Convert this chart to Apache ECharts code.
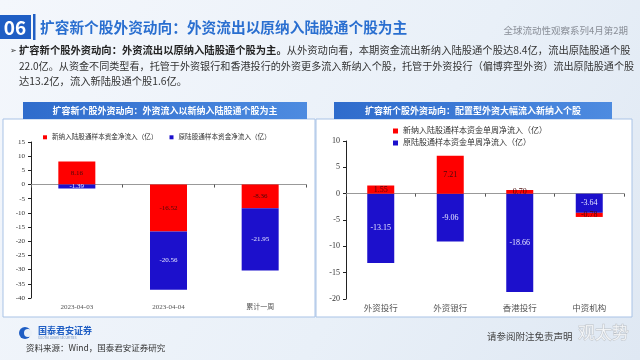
<!DOCTYPE html>
<html><head><meta charset="utf-8">
<script src="https://cdn.jsdelivr.net/npm/echarts@6/dist/echarts.min.js"></script>
<style>html,body{margin:0;padding:0;}#c{width:640px;height:360px;}</style>
</head><body><div id="c"></div>
<script>
const leftCats = ['2023-04-03', '2023-04-04', '累计一周'];
const leftNew = [8.16, -16.52, -8.36];
const leftOld = [-1.39, -20.56, -21.95];
const rightCats = ['外资投行', '外资银行', '香港投行', '中资机构'];
const rightNew = [1.55, 7.21, 0.70, -0.78];
const rightOld = [-13.15, -9.06, -18.66, -3.64];
const leftNames = ['新纳入陆股通样本资金净流入（亿）', '原陆股通样本资金净流入（亿）'];
const rightNames = ['新纳入陆股通样本资金单周净流入（亿）', '原陆股通样本资金单周净流入（亿）'];

const CJK = '"Noto Sans CJK SC", sans-serif';
const SERIF = '"Liberation Serif", "DejaVu Serif", "Noto Sans CJK SC", serif';
const RED = '#ff0000', BLUE = '#1c10cc';

const chart = echarts.init(document.getElementById('c'));

function yAxis(gi, min, max, fs) {
  return { type: 'value', gridIndex: gi, min: min, max: max, interval: 5,
    axisLine: { show: true, lineStyle: { color: '#222', width: 1 } },
    axisTick: { show: true, length: 3, lineStyle: { color: '#222' } },
    splitLine: { show: false },
    axisLabel: { fontSize: fs, color: '#333', fontFamily: SERIF, margin: 6 } };
}
function xLabelAxis(gi, cats, fs, margin) {
  return { type: 'category', gridIndex: gi, data: cats, position: 'bottom',
    axisLine: { show: false, onZero: false }, axisTick: { show: false },
    axisLabel: { fontSize: fs, color: '#555', fontFamily: SERIF, margin: margin } };
}
function xLineAxis(gi, cats) {
  return { type: 'category', gridIndex: gi, data: cats, position: 'bottom',
    axisLine: { show: true, onZero: true, lineStyle: { color: '#999', width: 1.2 } },
    axisTick: { show: true, length: 3, lineStyle: { color: '#555' } },
    axisLabel: { show: false } };
}
function bar(name, data, color, xi, yi, stack, bw, fs, lc) {
  return { type: 'bar', name: name, data: data, xAxisIndex: xi, yAxisIndex: yi, stack: stack,
    barWidth: bw, itemStyle: { color: color },
    label: { show: true, position: 'inside', fontSize: fs, fontFamily: SERIF, color: lc,
      formatter: p => p.value.toFixed(2) } };
}

const option = {
  animation: false,
  backgroundColor: {
    type: 'linear', x: 0, y: 0, x2: 1, y2: 1,
    colorStops: [{ offset: 0, color: '#f4f7fc' }, { offset: 0.6, color: '#e9f0f8' }, { offset: 1, color: '#dfe8f3' }]
  },
  graphic: [
    { type: 'rect', z: -10, shape: { x: 3, y: 119, width: 312, height: 198 },
      style: { fill: '#fff', stroke: '#a9c3e6', lineWidth: 1 } },
    { type: 'rect', z: -10, shape: { x: 316, y: 119, width: 316, height: 198 },
      style: { fill: '#fff', stroke: '#a9c3e6', lineWidth: 1 } },
    { type: 'rect', z: -9, shape: { x: 23, y: 102, width: 284, height: 17 },
      style: { fill: { type: 'linear', x: 0, y: 0, x2: 1, y2: 0, colorStops: [{ offset: 0, color: '#2f6ccc' }, { offset: 1, color: '#4d8be0' }] } } },
    { type: 'rect', z: -9, shape: { x: 334, y: 102, width: 278, height: 17 },
      style: { fill: { type: 'linear', x: 0, y: 0, x2: 1, y2: 0, colorStops: [{ offset: 0, color: '#2f6ccc' }, { offset: 1, color: '#4d8be0' }] } } },
    { type: 'text', z: 5, style: { text: '扩容新个股外资动向：外资流入以新纳入陆股通个股为主', x: 165, y: 110.5,
      align: 'center', verticalAlign: 'middle', fill: '#fff', font: 'bold 9px ' + CJK } },
    { type: 'text', z: 5, style: { text: '扩容新个股外资动向：配置型外资大幅流入新纳入个股', x: 473, y: 110.5,
      align: 'center', verticalAlign: 'middle', fill: '#fff', font: 'bold 9px ' + CJK } },
    // header
    { type: 'rect', z: 5, shape: { x: 0, y: 15, width: 31, height: 24 }, style: { fill: '#1f5ec4' } },
    { type: 'text', z: 6, style: { text: '06', x: 15, y: 27.5, align: 'center', verticalAlign: 'middle',
      fill: '#fff', font: 'bold 19px ' + CJK } },
    { type: 'rect', z: 5, shape: { x: 33, y: 14, width: 2.5, height: 26 }, style: { fill: '#1f5ec4' } },
    { type: 'text', z: 5, style: { text: '扩容新个股外资动向：外资流出以原纳入陆股通个股为主', x: 40, y: 27.5,
      verticalAlign: 'middle', fill: '#2a6fd0', font: 'bold 14.7px ' + CJK } },
    { type: 'text', z: 5, style: { text: '全球流动性观察系列4月第2期', x: 628, y: 30, align: 'right',
      verticalAlign: 'middle', fill: '#8a8f98', font: '9.5px ' + CJK } },
    // bullet text
    { type: 'text', z: 5, style: { text: '➢', x: 10, y: 50, verticalAlign: 'middle', fill: '#333', font: '8px ' + CJK } },
    { type: 'text', z: 5, style: {
      text: '{b|扩容新个股外资动向：外资流出以原纳入陆股通个股为主。}从外资动向看，本期资金流出新纳入陆股通个股达8.4亿，流出原陆股通个股',
      x: 19, y: 50, verticalAlign: 'middle', fill: '#333', font: '10.3px ' + CJK,
      rich: { b: { font: 'bold 10.3px ' + CJK, fill: '#222' } } } },
    { type: 'text', z: 5, style: {
      text: '22.0亿。从资金不同类型看，托管于外资银行和香港投行的外资更多流入新纳入个股，托管于外资投行（偏博弈型外资）流出原陆股通个股',
      x: 19, y: 66, verticalAlign: 'middle', fill: '#333', font: '10.1px ' + CJK } },
    { type: 'text', z: 5, style: { text: '达13.2亿，流入新陆股通个股1.6亿。', x: 19, y: 81.5,
      verticalAlign: 'middle', fill: '#333', font: '10.3px ' + CJK } },
    // footer
    { type: 'circle', z: 5, shape: { cx: 25, cy: 333, r: 6 }, style: { fill: '#1f5ec4' } },
    { type: 'circle', z: 6, shape: { cx: 28, cy: 333, r: 4 }, style: { fill: '#eaf0f8' } },
    { type: 'text', z: 5, style: { text: '国泰君安证券', x: 38, y: 331, verticalAlign: 'middle',
      fill: '#1f5ec4', font: 'bold 9px ' + CJK } },
    { type: 'text', z: 5, style: { text: 'GUOTAI JUNAN SECURITIES', x: 38, y: 338, verticalAlign: 'middle',
      fill: '#6f8fc0', font: '3px ' + CJK } },
    { type: 'text', z: 5, style: { text: '资料来源：Wind，国泰君安证券研究', x: 26, y: 348, verticalAlign: 'middle',
      fill: '#333', font: '8.5px ' + CJK } },
    { type: 'text', z: 5, style: { text: '请参阅附注免责声明', x: 487, y: 336, verticalAlign: 'middle',
      fill: '#444', font: '9.5px ' + CJK } },
    { type: 'text', z: 6, style: { text: '观太势', x: 578, y: 333, verticalAlign: 'middle',
      fill: 'rgba(255,255,255,0.7)', stroke: 'rgba(140,140,140,0.45)', lineWidth: 0.8, font: '17px ' + CJK } }
  ],
  legend: [
    { data: leftNames, left: 38, top: 129, itemWidth: 4, itemHeight: 4, itemGap: 12, icon: 'rect',
      textStyle: { fontSize: 6.6, fontFamily: SERIF, color: '#333' } },
    { data: rightNames, left: 388, top: 122, orient: 'vertical', itemWidth: 5, itemHeight: 5, itemGap: 4, icon: 'rect',
      textStyle: { fontSize: 8, fontFamily: SERIF, color: '#333' } }
  ],
  grid: [
    { left: 31, top: 142, width: 275, height: 156 },
    { left: 346, top: 141, width: 278, height: 158 }
  ],
  xAxis: [
    xLineAxis(0, leftCats), xLabelAxis(0, leftCats, 7, 6),
    xLineAxis(1, rightCats), xLabelAxis(1, rightCats, 8.5, 6)
  ],
  yAxis: [ yAxis(0, -40, 15, 7), yAxis(1, -20, 10, 8) ],
  series: [
    bar(leftNames[0], leftNew, RED, 0, 0, 'L', 37, 7, '#4a0a0a'),
    bar(leftNames[1], leftOld, BLUE, 0, 0, 'L', 37, 7, '#e6e6ff'),
    bar(rightNames[1], rightOld, BLUE, 2, 1, 'R', 27, 8, '#e6e6ff'),
    bar(rightNames[0], rightNew, RED, 2, 1, 'R', 27, 8, '#4a0a0a')
  ]
};
chart.setOption(option);
</script></body></html>
